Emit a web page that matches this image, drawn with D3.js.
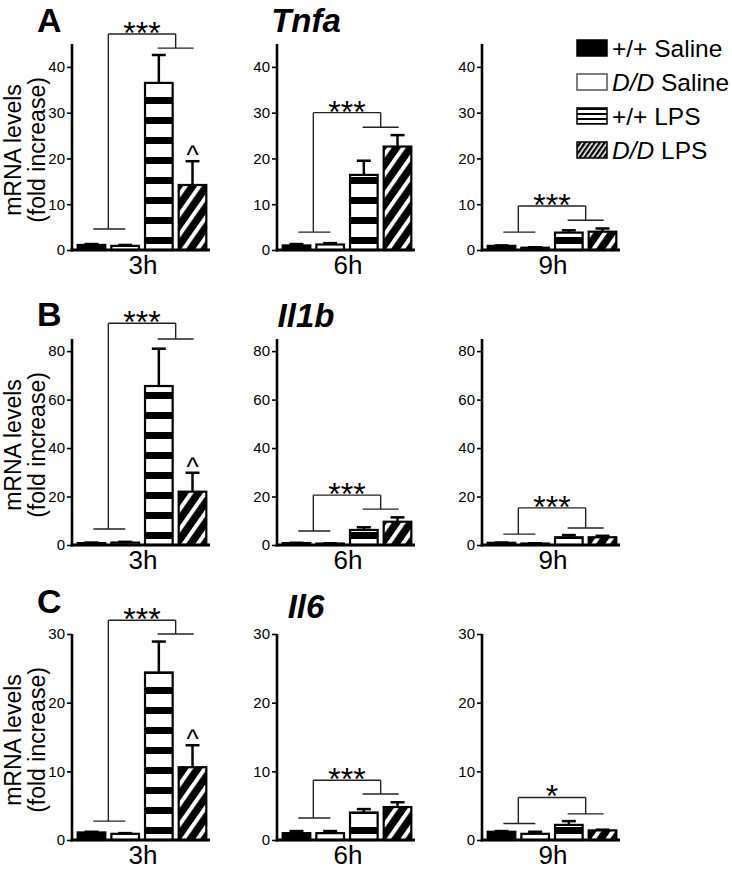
<!DOCTYPE html>
<html><head><meta charset="utf-8">
<script src="https://cdn.jsdelivr.net/npm/d3@7"></script>
<style>
body{margin:0;background:#fff}
svg{display:block}
text{font-family:"Liberation Sans",Arial,Helvetica,sans-serif;fill:#000}
</style>
</head><body>
<script>
// ---------- data ----------
const genes = ["Tnfa", "Il1b", "Il6"];
const panelLetters = ["A", "B", "C"];
const timepoints = ["3h", "6h", "9h"];
const groups = ["+/+ Saline", "D/D Saline", "+/+ LPS", "D/D LPS"];
const yMaxes = [45, 85, 30];
const yTickValues = [[0, 10, 20, 30, 40], [0, 20, 40, 60, 80], [0, 10, 20, 30]];

// mean values [timepoint][group]
const tnfaMeans  = [[1.1, 0.9, 36.5, 14.2], [1.0, 1.2, 16.4, 22.6], [0.9, 0.5, 3.8, 4.0]];
const tnfaErrors = [[0.2, 0.2, 6.1, 5.2],   [0.3, 0.3, 3.1, 2.5],   [0.1, 0.1, 0.5, 0.7]];
const il1bMeans  = [[0.8, 1.0, 65.6, 22.0], [0.8, 0.6, 6.2, 9.6],   [0.9, 0.6, 3.2, 3.2]];
const il1bErrors = [[0.2, 0.3, 15.4, 7.8],  [0.1, 0.1, 1.1, 1.8],   [0.1, 0.1, 0.9, 0.6]];
const il6Means   = [[1.1, 0.9, 24.4, 10.6], [1.0, 1.0, 4.0, 4.8],   [1.2, 0.9, 2.2, 1.4]];
const il6Errors  = [[0.1, 0.1, 4.5, 3.2],   [0.3, 0.3, 0.5, 0.7],   [0.1, 0.3, 0.55, 0.1]];

// significance brackets [timepoint] = [saline line, top, LPS line] in data units
const tnfaBrackets = [[4.6, 47.2, 44.1], [3.9, 30, 26.8], [3.9, 9.6, 6.5]];
const il1bBrackets = [[6.6, 91.5, 85], [5.8, 20.6, 14.8], [4.5, 15.3, 7.0]];
const il6Brackets  = [[2.75, 32, 30], [3.2, 8.7, 6.7], [2.4, 6.2, 3.8]];
const tnfaStars = ["***", "***", "***"];
const il1bStars = ["***", "***", "***"];
const il6Stars  = ["***", "***", "*"];
const caretMarks = ["^", "", ""]; // above D/D LPS

const allMeans = [tnfaMeans, il1bMeans, il6Means];
const allErrors = [tnfaErrors, il1bErrors, il6Errors];
const allBrackets = [tnfaBrackets, il1bBrackets, il6Brackets];
const allStars = [tnfaStars, il1bStars, il6Stars];

// ---------- layout ----------
const W = 732, H = 870;
const plotH = 206, plotW = 138;
const panelX = [72, 277, 482];
const panelY0 = [250, 545, 840];
const letterBase = [32, 326, 613];
const titleBase = [32, 327, 618];
const FONT = '"Liberation Sans",Arial,Helvetica,sans-serif';

const svg = d3.select("body").append("svg").attr("width", W).attr("height", H);
const defs = svg.append("defs");

// horizontal stripes (bars)
const hs = defs.append("pattern").attr("id", "hstripe").attr("patternUnits", "userSpaceOnUse")
  .attr("x", 0).attr("y", 13).attr("width", 10).attr("height", 20);
hs.append("rect").attr("width", 10).attr("height", 20).attr("fill", "#fff");
hs.append("rect").attr("y", 0).attr("width", 10).attr("height", 7).attr("fill", "#000");

// diagonal stripes (bars): black with white "/"
const dg = defs.append("pattern").attr("id", "diag").attr("patternUnits", "userSpaceOnUse")
  .attr("width", 20).attr("height", 11.5).attr("patternTransform", "rotate(-55)");
dg.append("rect").attr("width", 20).attr("height", 11.5).attr("fill", "#000");
dg.append("rect").attr("y", 0).attr("width", 20).attr("height", 4).attr("fill", "#fff");

// legend patterns
const lhs = defs.append("pattern").attr("id", "lhstripe").attr("patternUnits", "userSpaceOnUse")
  .attr("x", 0).attr("y", 108).attr("width", 10).attr("height", 5);
lhs.append("rect").attr("width", 10).attr("height", 5).attr("fill", "#fff");
lhs.append("rect").attr("width", 10).attr("height", 2).attr("fill", "#000");

const ldg = defs.append("pattern").attr("id", "ldiag").attr("patternUnits", "userSpaceOnUse")
  .attr("width", 10).attr("height", 4).attr("patternTransform", "rotate(-55)");
ldg.append("rect").attr("width", 10).attr("height", 4).attr("fill", "#fff");
ldg.append("rect").attr("width", 10).attr("height", 2.4).attr("fill", "#000");

const fills = ["#000", "#fff", "url(#hstripe)", "url(#diag)"];
const legendFills = ["#000", "#fff", "url(#lhstripe)", "url(#ldiag)"];

const x = d3.scaleBand().domain(groups).range([3, 137]).paddingInner(0.12).paddingOuter(0.05);
const bw = x.bandwidth();

genes.forEach((gene, gi) => {
  const y = d3.scaleLinear().domain([0, yMaxes[gi]]).range([plotH, 0]);
  const y0 = panelY0[gi];

  // panel letter
  svg.append("text").attr("x", 37).attr("y", letterBase[gi])
    .attr("font-size", 34).attr("font-weight", "bold").text(panelLetters[gi]);
  // gene title
  svg.append("text").attr("x", 306).attr("y", titleBase[gi]).attr("text-anchor", "middle")
    .attr("font-size", 33).attr("font-weight", "bold").attr("font-style", "italic").text(gene);

  // y label
  const cy = y0 - 100;
  const yl = svg.append("g").attr("transform", `translate(0,${cy}) rotate(-90)`);
  yl.append("text").attr("x", 0).attr("y", 21).attr("text-anchor", "middle").attr("font-size", 23).text("mRNA levels");
  yl.append("text").attr("x", 0).attr("y", 45).attr("text-anchor", "middle").attr("font-size", 23).text("(fold increase)");

  timepoints.forEach((tp, ti) => {
    const g = svg.append("g").attr("transform", `translate(${panelX[ti]},${y0 - plotH})`);
    const means = allMeans[gi][ti], errs = allErrors[gi][ti];

    // bars
    g.selectAll("rect.bar").data(groups).enter().append("rect").attr("class", "bar")
      .attr("x", d => x(d) + 1).attr("width", bw - 2)
      .attr("y", (d, i) => y(means[i]))
      .attr("height", (d, i) => plotH - y(means[i]))
      .attr("fill", (d, i) => fills[i]).attr("stroke", "#000").attr("stroke-width", 2.2);

    // error bars (upper)
    groups.forEach((grp, i) => {
      const cx = x(grp) + bw / 2;
      const top = y(means[i] + errs[i]);
      g.append("line").attr("x1", cx).attr("x2", cx).attr("y1", y(means[i])).attr("y2", top)
        .attr("stroke", "#000").attr("stroke-width", 2.5);
      g.append("line").attr("x1", cx - 7).attr("x2", cx + 7).attr("y1", top).attr("y2", top)
        .attr("stroke", "#000").attr("stroke-width", 2.5);
    });

    // caret above D/D LPS
    if (caretMarks[ti]) {
      const i = 3;
      g.append("text").attr("x", x(groups[i]) + bw / 2).attr("y", y(means[i] + errs[i]) + 3)
        .attr("text-anchor", "middle").attr("font-size", 26).text(caretMarks[ti]);
    }

    // axes
    const yAxis = d3.axisLeft(y).tickValues(yTickValues[gi]).tickSize(5).tickPadding(2).tickFormat(d3.format("d"));
    const ya = g.append("g").call(yAxis);
    ya.select(".domain").remove();
    ya.selectAll(".tick line").attr("stroke", "#000").attr("stroke-width", 1.6);
    ya.selectAll(".tick text").attr("font-size", 15).attr("font-family", FONT).attr("fill", "#000");
    g.append("line").attr("x1", 0).attr("x2", 0).attr("y1", 0).attr("y2", plotH + 1.5)
      .attr("stroke", "#000").attr("stroke-width", 2.6);
    g.append("line").attr("x1", -1.3).attr("x2", plotW).attr("y1", plotH).attr("y2", plotH)
      .attr("stroke", "#000").attr("stroke-width", 3);

    // x label
    g.append("text").attr("x", plotW / 2 + 2).attr("y", plotH + 24).attr("text-anchor", "middle")
      .attr("font-size", 26).text(tp);

    // significance bracket
    const br = allBrackets[gi][ti];
    const gapL = (x(groups[0]) + bw + x(groups[1])) / 2;
    const gapR = (x(groups[2]) + bw + x(groups[3])) / 2;
    const bs = { stroke: "#222", "stroke-width": 1.4 };
    const seg = (x1, y1, x2, y2) => {
      const l = g.append("line").attr("x1", x1).attr("y1", y1).attr("x2", x2).attr("y2", y2);
      Object.entries(bs).forEach(([k, v]) => l.attr(k, v));
    };
    seg(gapL - 15, y(br[0]), gapL + 17, y(br[0]));
    seg(gapL, y(br[0]), gapL, y(br[1]));
    seg(gapL, y(br[1]), gapR, y(br[1]));
    seg(gapR, y(br[1]), gapR, y(br[2]));
    seg(gapR - 18, y(br[2]), gapR + 18, y(br[2]));
    g.append("text").attr("x", (gapL + gapR) / 2).attr("y", y(br[1]) + 10).attr("text-anchor", "middle")
      .attr("font-size", 32).text(allStars[gi][ti]);
  });
});

// legend
const lg = svg.append("g");
groups.forEach((grp, i) => {
  const ty = 40 + 34 * i;
  lg.append("rect").attr("x", 577).attr("y", ty).attr("width", 30).attr("height", 16)
    .attr("fill", legendFills[i]).attr("stroke", i === 1 ? "#555" : "#000").attr("stroke-width", 1.5);
  const t = lg.append("text").attr("x", 612).attr("y", ty + 17).attr("font-size", 24.5);
  const parts = grp.split(" ");
  t.append("tspan").attr("font-style", parts[0] === "D/D" ? "italic" : "normal").text(parts[0]);
  t.append("tspan").text(" " + parts[1]);
});
</script>
</body></html>
